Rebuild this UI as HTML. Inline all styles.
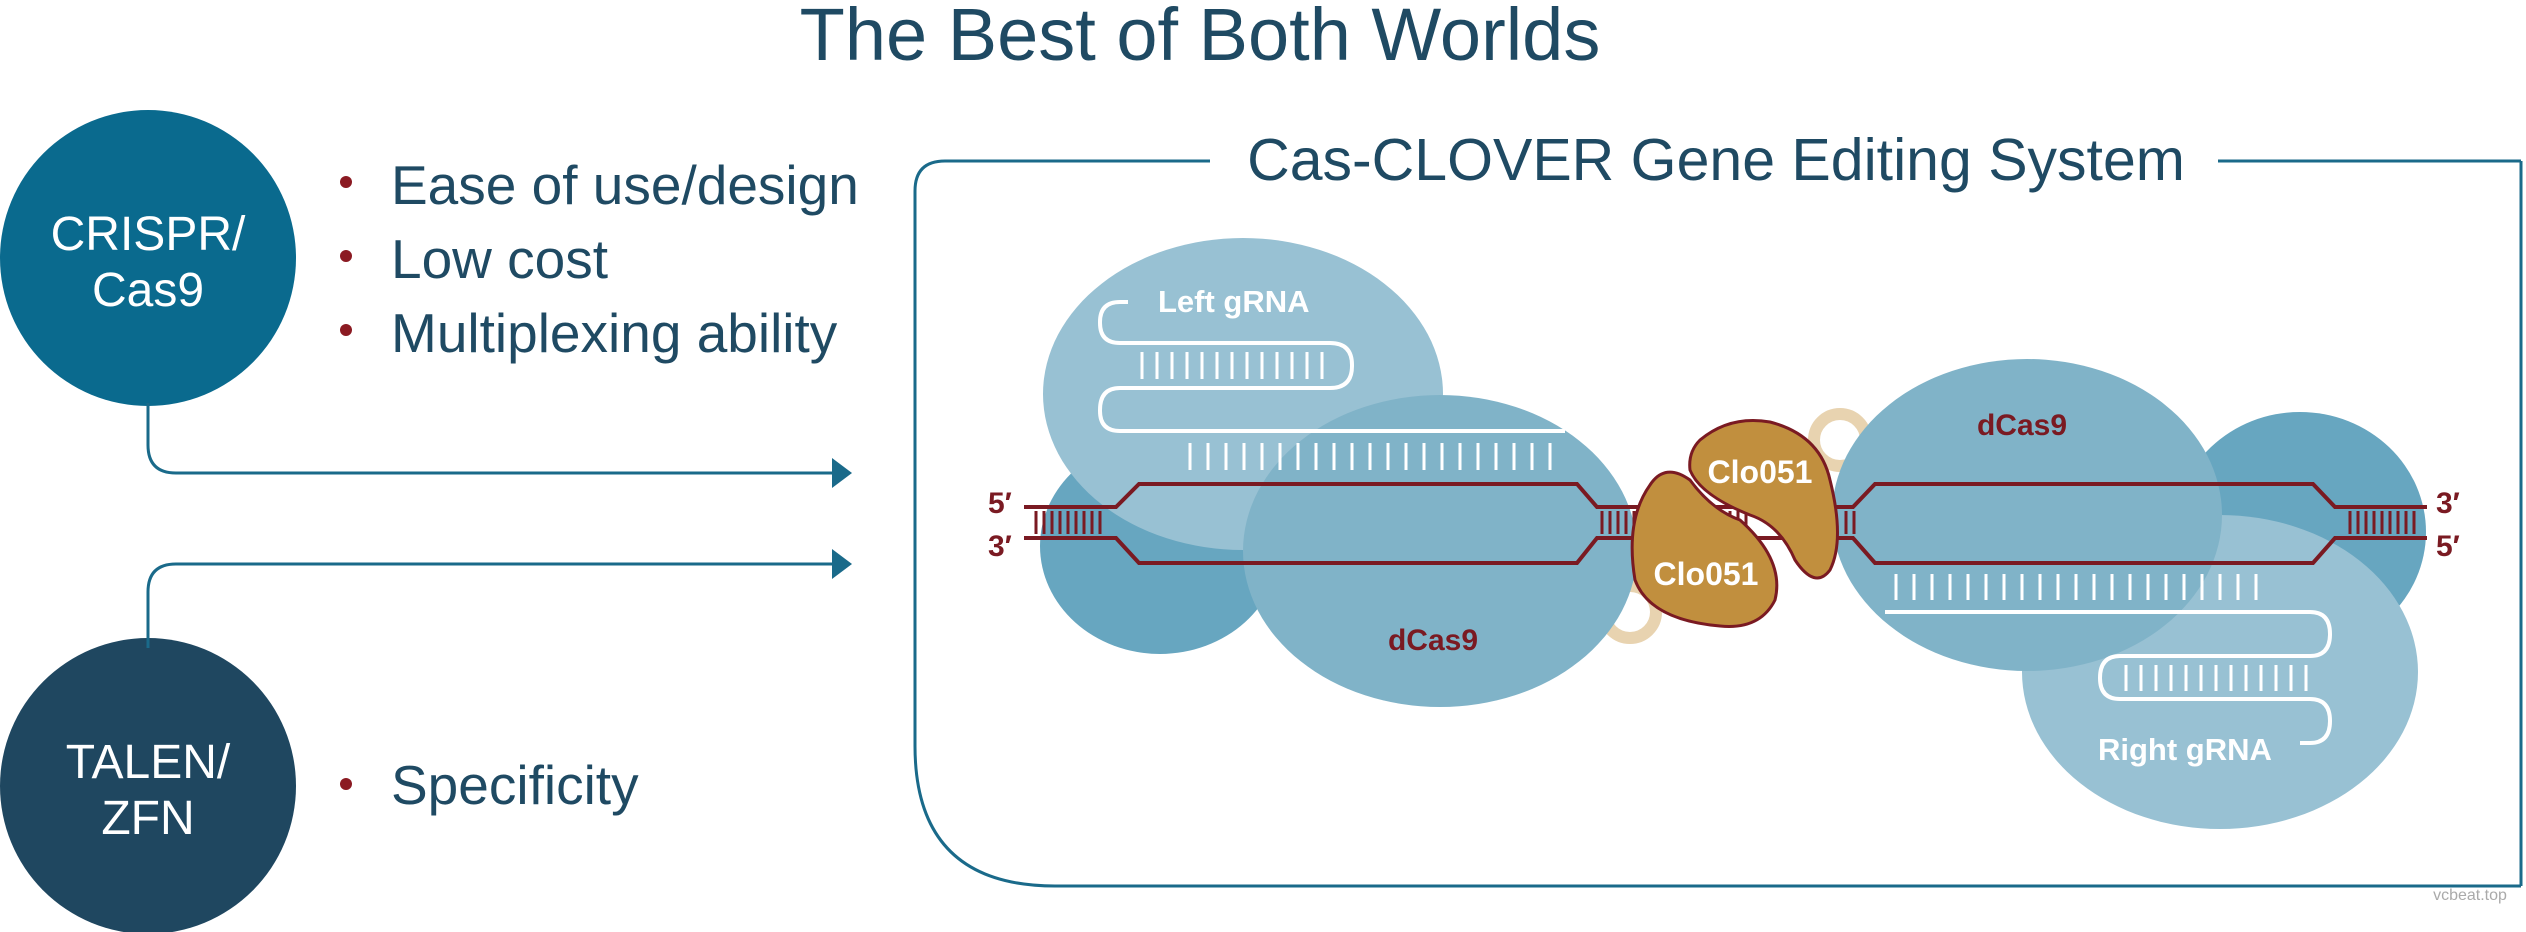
<!DOCTYPE html>
<html><head><meta charset="utf-8"><style>
html,body{margin:0;padding:0;background:#fff}
svg{display:block}
text{font-family:"Liberation Sans",sans-serif}
</style></head><body>
<svg width="2526" height="932" viewBox="0 0 2526 932" xmlns="http://www.w3.org/2000/svg">
<text x="1200" y="60" text-anchor="middle" font-size="74" fill="#1f4a63">The Best of Both Worlds</text>
<circle cx="148" cy="258" r="148" fill="#0a6a8e"/>
<text x="148" y="250" text-anchor="middle" font-size="48" fill="#fff">CRISPR/</text>
<text x="148" y="306" text-anchor="middle" font-size="48" fill="#fff">Cas9</text>
<circle cx="148" cy="786" r="148" fill="#1f4760"/>
<text x="148" y="778" text-anchor="middle" font-size="48" fill="#fff">TALEN/</text>
<text x="148" y="834" text-anchor="middle" font-size="48" fill="#fff">ZFN</text>
<g fill="#8b1a22"><circle cx="346" cy="182" r="6"/><circle cx="346" cy="256" r="6"/><circle cx="346" cy="330" r="6"/><circle cx="346" cy="784" r="6"/></g>
<g font-size="55" fill="#1f4a63">
<text x="391" y="204">Ease of use/design</text>
<text x="391" y="278">Low cost</text>
<text x="391" y="352">Multiplexing ability</text>
<text x="391" y="804">Specificity</text>
</g>
<g fill="none" stroke="#1a6a8a" stroke-width="3">
<path d="M148 403 V445 Q148 473 176 473 H832"/>
<path d="M148 648 V592 Q148 564 176 564 H832"/>
</g>
<g fill="#1a6a8a"><path d="M832 458 L852 473 L832 488Z"/><path d="M832 549 L852 564 L832 579Z"/></g>
<path d="M1210 161 H945 Q915 161 915 191 V746 Q915 886 1055 886 H2521 M2521 161 H2218" fill="none" stroke="#1a6a8a" stroke-width="3"/>
<path d="M2521 161 V886" stroke="#1a6a8a" stroke-width="3"/>
<text x="1716" y="180" text-anchor="middle" font-size="59" fill="#1f4a63">Cas-CLOVER Gene Editing System</text>
<ellipse cx="1160" cy="546" rx="120" ry="108" fill="#67a6c0"/>
<ellipse cx="2300" cy="532" rx="126" ry="120" fill="#67a6c0"/>
<ellipse cx="1243" cy="394" rx="200" ry="156" fill="#98c1d3"/>
<ellipse cx="2220" cy="672" rx="198" ry="157" fill="#98c1d3"/>
<circle cx="1840" cy="440" r="26" fill="none" stroke="#e8d3b0" stroke-width="12"/>
<circle cx="1630" cy="612" r="26" fill="none" stroke="#e8d3b0" stroke-width="12"/>
<ellipse cx="1440" cy="551" rx="197" ry="156" fill="#80b3c8"/>
<ellipse cx="2027" cy="515" rx="195" ry="156" fill="#80b3c8"/>
<g stroke="#7a1a22" stroke-width="3">
<path d="M1036 511V534M1044 511V534M1052 511V534M1060 511V534M1068 511V534M1076 511V534M1084 511V534M1092 511V534M1100 511V534"/>
<path d="M1602 511V534M1610 511V534M1618 511V534M1626 511V534M1634 511V534M1642 511V534M1650 511V534M1658 511V534M1666 511V534M1674 511V534M1682 511V534M1690 511V534M1698 511V534M1706 511V534M1714 511V534M1722 511V534M1730 511V534M1738 511V534M1746 511V534M1846 511V534M1854 511V534"/>
<path d="M2350 511V534M2358 511V534M2366 511V534M2374 511V534M2382 511V534M2390 511V534M2398 511V534M2406 511V534M2414 511V534"/>
</g>
<g fill="none" stroke="#7a1a22" stroke-width="4">
<path d="M1024 507H1116L1139 484H1577L1597 507H1853L1875 484H2313L2335 507H2427"/>
<path d="M1024 538H1116L1139 563H1577L1597 538H1853L1875 563H2313L2335 538H2427"/>
</g>
<g font-size="30" font-weight="bold" fill="#7a1a22">
<text x="988" y="513">5′</text><text x="988" y="556">3′</text>
<text x="2436" y="513">3′</text><text x="2436" y="556">5′</text>
<text x="1433" y="650" text-anchor="middle">dCas9</text>
<text x="2022" y="435" text-anchor="middle">dCas9</text>
</g>
<path d="M1650 485 Q1665 462 1690 480 Q1712 510 1740 520 Q1785 560 1775 600 Q1760 630 1720 626 Q1650 620 1635 580 Q1625 520 1650 485Z" fill="#c18f3e" stroke="#7a1a22" stroke-width="3"/>
<path d="M1700 440 Q1730 415 1770 422 Q1820 435 1830 480 Q1845 540 1830 570 Q1815 590 1795 560 Q1780 525 1750 515 Q1700 495 1690 470 Q1688 452 1700 440Z" fill="#c18f3e" stroke="#7a1a22" stroke-width="3"/>
<g font-size="32" font-weight="bold" fill="#fff" text-anchor="middle">
<text x="1760" y="483">Clo051</text>
<text x="1706" y="585">Clo051</text>
</g>
<g fill="none" stroke="#fff" stroke-width="4">
<path d="M1128 302H1120Q1100 302 1100 322V323Q1100 343 1120 343H1330Q1352 343 1352 365V366Q1352 388 1330 388H1120Q1100 388 1100 410V411Q1100 431 1120 431H1565"/>
<path d="M1885 612H2310Q2330 612 2330 634V634Q2330 656 2310 656H2120Q2100 656 2100 678V678Q2100 699 2120 699H2310Q2330 699 2330 721V721Q2330 743 2310 743H2300"/>
</g>
<g stroke="#fff" stroke-width="3">
<path d="M1142 352V379M1157 352V379M1172 352V379M1187 352V379M1202 352V379M1217 352V379M1232 352V379M1247 352V379M1262 352V379M1277 352V379M1292 352V379M1307 352V379M1322 352V379"/>
<path d="M1190 443V470M1208 443V470M1226 443V470M1244 443V470M1262 443V470M1280 443V470M1298 443V470M1316 443V470M1334 443V470M1352 443V470M1370 443V470M1388 443V470M1406 443V470M1424 443V470M1442 443V470M1460 443V470M1478 443V470M1496 443V470M1514 443V470M1532 443V470M1550 443V470"/>
<path d="M1896 574V600M1914 574V600M1932 574V600M1950 574V600M1968 574V600M1986 574V600M2004 574V600M2022 574V600M2040 574V600M2058 574V600M2076 574V600M2094 574V600M2112 574V600M2130 574V600M2148 574V600M2166 574V600M2184 574V600M2202 574V600M2220 574V600M2238 574V600M2256 574V600"/>
<path d="M2126 665V691M2141 665V691M2156 665V691M2171 665V691M2186 665V691M2201 665V691M2216 665V691M2231 665V691M2246 665V691M2261 665V691M2276 665V691M2291 665V691M2306 665V691"/>
</g>
<g font-size="31" font-weight="bold" fill="#fff">
<text x="1158" y="312">Left gRNA</text>
<text x="2098" y="760">Right gRNA</text>
</g>
<text x="2470" y="900" text-anchor="middle" font-size="16" fill="#aaa">vcbeat.top</text>
</svg>
</body></html>
